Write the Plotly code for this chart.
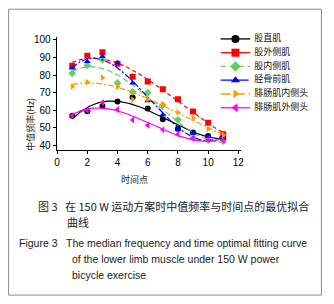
import numpy as np
import plotly.graph_objects as go

time_points = [1, 2, 3, 4, 5, 6, 7, 8, 9, 10, 11]

series_names = ["股直肌", "股外侧肌", "股内侧肌", "胫骨前肌", "腓肠肌内侧头", "腓肠肌外侧头"]

rectus_femoris = [57, 59.5, 62.5, 65, 67.5, 61, 55, 49.5, 47.5, 45.5, 44]
vastus_lateralis = [85.3, 91, 92.9, 86.5, 79, 76.3, 72, 66.3, 59.4, 52.9, 46.5]
vastus_medialis = [81, 85.5, 88.7, 75.5, 70.5, 70, 63, 54.6, 44.5, 43, 42.5]
tibialis_anterior = [84, 87.7, 90.5, 86.8, 75.5, 65.4, 57.5, 49, 47, 45.3, 44]
gastroc_medial = [73.5, 76, 78.5, 73.5, 66, 66.3, 63.5, 58.8, 55.7, 49.6, 46]
gastroc_lateral = [57, 60, 64.5, 60.5, 54.5, 51.5, 49, 46.5, 44, 43.5, 43]

all_values = [rectus_femoris, vastus_lateralis, vastus_medialis,
              tibialis_anterior, gastroc_medial, gastroc_lateral]

x_ticks = [0, 2, 4, 6, 8, 10, 12]
y_ticks = [40, 50, 60, 70, 80, 90, 100]

colors = ["#000000", "#ff0000", "#66cc66", "#0000ff", "#ff9900", "#ff00ff"]
symbols = ["circle", "square", "diamond", "triangle-up", "triangle-right", "triangle-left"]
dashes = ["solid", "4px,3px", "6px,3px", "6px,2px,2px,2px", "6px,2px,2px,2px", "solid"]
legend_dashes = ["solid", "solid", "5px,4px", "12px,4px", "10px,4px", "solid"]

FW, FH = 334, 304
fig = go.Figure()

# main chart curves and points
xs = np.linspace(1, 11, 120)
for name, vals, c, s, d in zip(series_names, all_values, colors, symbols, dashes):
    coef = np.polyfit(time_points, vals, 3)
    fig.add_trace(go.Scatter(x=xs, y=np.polyval(coef, xs), mode="lines",
                             line=dict(color=c, width=1.2, dash=d), showlegend=False,
                             hoverinfo="skip"))
    fig.add_trace(go.Scatter(x=time_points, y=vals, mode="markers", name=name,
                             marker=dict(color=c, symbol=s, size=6, line=dict(width=0)),
                             showlegend=False))

# manual legend drawn on a pixel-scaled overlay axis
leg_x0, leg_x1, leg_tx = 222, 252, 256
leg_y0, leg_dy = 37.3, 13.9
for i, (name, c, s, ld) in enumerate(zip(series_names, colors, symbols, legend_dashes)):
    yy = leg_y0 + leg_dy * i
    fig.add_trace(go.Scatter(x=[leg_x0, leg_x1], y=[yy, yy], mode="lines",
                             line=dict(color=c, width=1.3, dash=ld),
                             xaxis="x2", yaxis="y2", showlegend=False, hoverinfo="skip"))
    fig.add_trace(go.Scatter(x=[(leg_x0 + leg_x1) / 2], y=[yy], mode="markers",
                             marker=dict(color=c, symbol=s, size=8, line=dict(width=0)),
                             xaxis="x2", yaxis="y2", showlegend=False, hoverinfo="skip"))
    fig.add_trace(go.Scatter(x=[leg_tx], y=[yy], mode="text", text=[name],
                             textposition="middle right",
                             textfont=dict(family="Noto Sans CJK SC", size=9, color="#111111"),
                             xaxis="x2", yaxis="y2", showlegend=False, hoverinfo="skip"))

def px(x):
    return x / FW

def py(y):
    return 1 - y / FH

fig.add_shape(type="rect", xref="paper", yref="paper", layer="above",
              x0=px(6.7), x1=px(324.3), y0=py(296), y1=py(7.3),
              line=dict(color="#8c8c8c", width=1))

cap_font = dict(family="Noto Sans CJK SC, Liberation Sans", size=11, color="#222222")
en_font = dict(family="Liberation Sans, Arial", size=10.5, color="#222222")
captions = [
    (35, 206, "图 3   在 150 W 运动方案时中值频率与时间点的最优拟合", cap_font),
    (64, 222, "曲线", cap_font),
    (15, 243, "Figure 3   The median frequency and time optimal fitting curve", en_font),
    (69, 260, "of the lower limb muscle under 150 W power", en_font),
    (69, 276, "bicycle exercise", en_font),
]
for x, y, t, f in captions:
    fig.add_annotation(xref="paper", yref="paper", x=px(x), y=py(y),
                       text=t, showarrow=False, xanchor="left", yanchor="middle", font=f)

fig.add_annotation(xref="paper", yref="paper", x=px(20), y=py(95),
                   text="中值频率(Hz)", textangle=-90, showarrow=False,
                   font=dict(family="Noto Sans CJK SC", size=9, color="#222222"))
fig.add_annotation(xref="paper", yref="paper", x=px(135), y=py(179),
                   text="时间点", showarrow=False,
                   font=dict(family="Noto Sans CJK SC", size=9, color="#222222"))

tick_font = dict(family="Liberation Sans Narrow, Liberation Sans, Arial", size=10, color="#000000")
fig.update_layout(
    width=FW, height=FH,
    margin=dict(l=0, r=0, t=0, b=0),
    paper_bgcolor="white", plot_bgcolor="rgba(0,0,0,0)",
    showlegend=False,
    xaxis=dict(domain=[px(55.5), px(243)], range=[-0.03, 12.2], tickvals=x_ticks,
               showline=True, linecolor="#000000", linewidth=1, ticks="outside",
               ticklen=3, tickcolor="#000000", showgrid=False, zeroline=False,
               tickfont=tick_font, anchor="y"),
    yaxis=dict(domain=[py(149.5), py(35)], range=[37.5, 101.8], tickvals=y_ticks,
               showline=True, linecolor="#000000", linewidth=1, ticks="outside",
               ticklen=3, tickcolor="#000000", showgrid=False, zeroline=False,
               tickfont=tick_font, anchor="x"),
    xaxis2=dict(domain=[0, 1], range=[0, FW], visible=False, anchor="y2"),
    yaxis2=dict(domain=[0, 1], range=[FH, 0], visible=False, anchor="x2"),
)

fig.write_html("out.html", config={"displayModeBar": False},
               post_script="document.body.style.margin='0';document.body.style.overflow='hidden';")
